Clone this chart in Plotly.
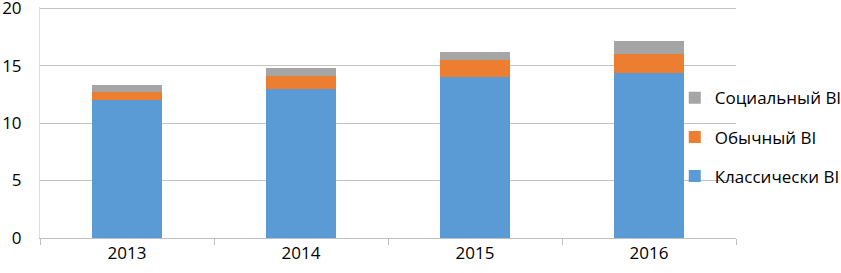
import plotly.graph_objects as go

years = ["2013", "2014", "2015", "2016"]
classic_bi = [12.0, 13.0, 14.0, 14.4]
regular_bi = [0.7, 1.1, 1.5, 1.6]
social_bi = [0.6, 0.7, 0.7, 1.1]

names = ["Классически BI", "Обычный BI", "Социальный BI"]
colors = ["#5B9BD5", "#ED7D31", "#A5A5A5"]
series = [classic_bi, regular_bi, social_bi]
ranks = [3, 2, 1]

fig = go.Figure()
for name, vals, col, rk in zip(names, series, colors, ranks):
    fig.add_trace(go.Bar(x=years, y=vals, name=name, marker_color=col,
                         marker_line_width=0, legendgroup=name, legendrank=rk))

font = dict(family="Open Sans, Liberation Sans, sans-serif", size=17, color="#000000")
fig.update_layout(
    barmode="stack",
    bargap=0.6,
    width=841, height=273,
    margin=dict(l=40, r=105, t=7, b=35, autoexpand=False),
    paper_bgcolor="white", plot_bgcolor="white",
    font=font,
    legend=dict(x=0.912, y=0.436, xanchor="left", yanchor="middle",
                traceorder="grouped", tracegroupgap=14,
                bgcolor="rgba(0,0,0,0)", font=font, itemwidth=30),
    showlegend=True,
)
fig.update_yaxes(range=[0, 20.1], dtick=5, showgrid=True, gridcolor="#C4C4C4",
                 gridwidth=1, zeroline=False, showline=True, linecolor="#DDDDDD",
                 ticks="", tickfont=font, automargin=False, ticklabelstandoff=14,
                 ticklabeloverflow="allow")
fig.update_xaxes(showline=True, linecolor="#BFBFBF", linewidth=1,
                 ticks="outside", tickson="boundaries", ticklen=6,
                 tickcolor="#BFBFBF", tickfont=font, automargin=False)
fig.write_html("out.html", post_script="document.body.style.margin='0';",
               config={"displayModeBar": False})
